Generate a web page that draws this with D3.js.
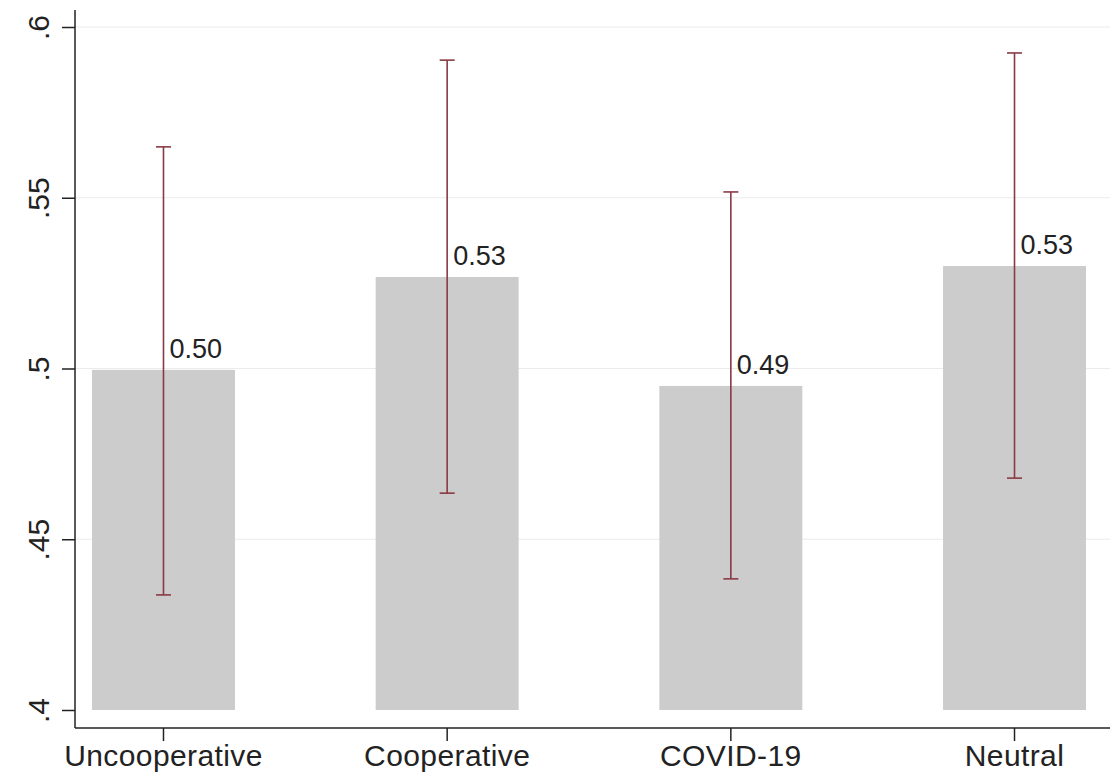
<!DOCTYPE html>
<html><head><meta charset="utf-8">
<script src="https://cdn.jsdelivr.net/npm/d3@7"></script>
<style>body{margin:0;background:#fff;}svg{display:block;font-family:"Liberation Sans",Arial,sans-serif;}</style>
</head><body>
<svg id="c" width="1110" height="776"></svg>
<script>
const categories = ["Uncooperative","Cooperative","COVID-19","Neutral"];
const means = [0.4996, 0.5268, 0.4949, 0.5300];
const lower = [0.4337, 0.4635, 0.4384, 0.4679];
const upper = [0.5649, 0.5903, 0.5517, 0.5924];
const labels = ["0.50","0.53","0.49","0.53"];
const yTicks = [0.4,0.45,0.5,0.55,0.6];
const yTickLabels = [".4",".45",".5",".55",".6"];

const svg = d3.select("#c");
const left = 75, right = 1110, bottomAxis = 728;
const y = d3.scaleLinear().domain([0.4,0.6]).range([710,27]);
const x = d3.scaleBand().domain(categories).range([92, 1086]).paddingInner(0.496).paddingOuter(0);

// gridlines
svg.append("g").selectAll("line").data(yTicks.slice(1)).join("line")
  .attr("x1",left).attr("x2",right).attr("y1",d=>y(d)).attr("y2",d=>y(d))
  .attr("stroke","#ebebeb").attr("stroke-width",1.2);

// bars
svg.append("g").selectAll("rect").data(categories).join("rect")
  .attr("x",d=>x(d)).attr("width",x.bandwidth())
  .attr("y",(d,i)=>y(means[i])).attr("height",(d,i)=>y(0.4)-y(means[i]))
  .attr("fill","#cccccc");

// error bars
const eb = svg.append("g").attr("stroke","#8a3a44").attr("stroke-width",1.6);
categories.forEach((c,i)=>{
  const cx = x(c)+x.bandwidth()/2;
  eb.append("line").attr("x1",cx).attr("x2",cx).attr("y1",y(upper[i])).attr("y2",y(lower[i]));
  eb.append("line").attr("x1",cx-7.5).attr("x2",cx+7.5).attr("y1",y(upper[i])).attr("y2",y(upper[i]));
  eb.append("line").attr("x1",cx-7.5).attr("x2",cx+7.5).attr("y1",y(lower[i])).attr("y2",y(lower[i]));
});

// value labels
svg.append("g").selectAll("text").data(categories).join("text")
  .attr("x",d=>x(d)+x.bandwidth()/2+6).attr("y",(d,i)=>y(means[i])-12)
  .attr("font-size",27).attr("fill","#222").text((d,i)=>labels[i]);

// y axis
const yAxis = d3.axisLeft(y).tickValues(yTicks).tickFormat((d,i)=>yTickLabels[i]).tickSize(13).tickPadding(0);
const gy = svg.append("g").attr("transform",`translate(${left},0)`).call(yAxis);
gy.select(".domain").attr("d",`M0,10V${bottomAxis}`).attr("stroke","#222").attr("stroke-width",1.5);
gy.selectAll(".tick line").attr("stroke","#222").attr("stroke-width",1.5);
gy.selectAll(".tick text").attr("font-size",30).attr("fill","#222")
  .attr("text-anchor","middle").attr("x",0).attr("dy",0)
  .attr("transform","translate(-26,0) rotate(-90)");

// x axis
const xAxis = d3.axisBottom(x).tickSize(13).tickPadding(4);
const gx = svg.append("g").attr("transform",`translate(0,${bottomAxis})`).call(xAxis);
gx.select(".domain").attr("d",`M${left},0H${right}`).attr("stroke","#222").attr("stroke-width",1.5);
gx.selectAll(".tick line").attr("stroke","#222").attr("stroke-width",1.5);
gx.selectAll(".tick text").attr("font-size",30).attr("letter-spacing","0.4px").attr("fill","#222");
</script>
</body></html>
